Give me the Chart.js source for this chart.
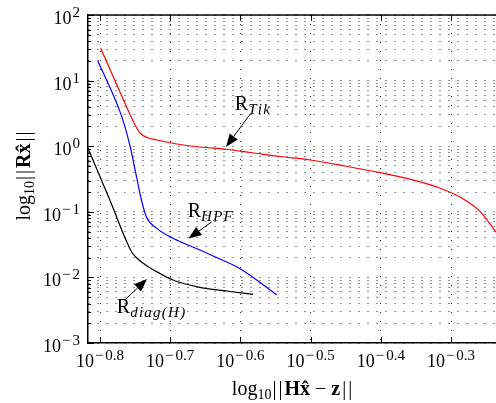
<!DOCTYPE html>
<html>
<head>
<meta charset="utf-8">
<script src="https://cdn.jsdelivr.net/npm/chart.js@4.4.1/dist/chart.umd.min.js"></script>
<style>
  html, body { margin: 0; padding: 0; background: #fff; }
  #wrap { width: 496px; height: 403px; }
</style>
</head>
<body>
<div id="wrap"><canvas id="newChart" width="496" height="403"></canvas></div>
<script>
// all values are log10 of the plotted quantities
const tikX = [-0.799, -0.775, -0.750, -0.743, -0.733, -0.719, -0.686, -0.658, -0.619, -0.586, -0.544, -0.501, -0.451, -0.401, -0.354, -0.316, -0.283, -0.259, -0.236];
const tikY = [1.492, 0.910, 0.323, 0.201, 0.133, 0.095, 0.026, -0.012, -0.050, -0.096, -0.157, -0.210, -0.302, -0.404, -0.515, -0.637, -0.800, -0.990, -1.308];

const hpfX = [-0.803, -0.769, -0.757, -0.748, -0.741, -0.734, -0.719, -0.696, -0.658, -0.634, -0.601, -0.548];
const hpfY = [1.299, 0.450, -0.008, -0.465, -0.820, -1.075, -1.252, -1.404, -1.582, -1.697, -1.864, -2.268];

const diagX = [-0.817, -0.786, -0.755, -0.746, -0.734, -0.715, -0.696, -0.658, -0.615, -0.582];
const diagY = [-0.032, -0.820, -1.608, -1.720, -1.819, -1.938, -2.040, -2.151, -2.215, -2.258];

const xTicks = [-0.8, -0.7, -0.6, -0.5, -0.4, -0.3];
const yTicks = [-3, -2, -1, 0, 1, 2];

// annotation labels: text position, arrow start, arrow tip (log10 units)
const noteSubs = ["Tik", "HPF", "diag(H)"];
const noteText = [[-0.608, 0.552], [-0.675, -1.079], [-0.776, -2.543]];
const noteFrom = [[-0.586, 0.491], [-0.641, -1.155], [-0.764, -2.337]];
const noteTip = [[-0.6205, -0.012], [-0.674, -1.407], [-0.733, -2.024]];

const X_MIN = -0.8171;
const X_MAX = -0.2359;

const SERIF = '"Liberation Serif", "DejaVu Serif", serif';

function pairs(xs, ys) {
    return xs.map((v, i) => ({ x: v, y: ys[i] }));
}

// y grid: decades plus the 2..9 minor lines
let yGrid = [];
for (let d = -3; d < 2; d++) {
    yGrid.push(d);
    for (let k = 2; k <= 9; k++) yGrid.push(d + Math.log10(k));
}
yGrid.push(2);

function richText(c, parts, x, y, align) {
    let total = 0;
    parts.forEach((p) => {
        c.font = p.f;
        p.w = c.measureText(p.t).width + (p.gap || 0);
        total += p.w;
    });
    let cx = align === "right" ? x - total : align === "center" ? x - total / 2 : x;
    parts.forEach((p) => {
        c.font = p.f;
        c.fillText(p.t, cx, y + (p.dy || 0));
        cx += p.w;
    });
}

// "10" with a superscript exponent
function powerParts(v) {
    const parts = [{ t: "10", f: "18px " + SERIF, gap: 1 }];
    if (v < 0) parts.push({ t: "\u2212", f: "15px " + SERIF, dy: -7, gap: 2 });
    parts.push({ t: Math.abs(v).toString(), f: "15px " + SERIF, dy: -7 });
    return parts;
}

function bars() {
    return { t: "|", f: "20px " + SERIF, gap: 2 };
}

const axisDecor = {
    id: "axisDecor",
    afterDraw(chart) {
        const { ctx: c, chartArea: a, scales } = chart;
        const x = scales.x, y = scales.y;
        c.save();
        c.fillStyle = "#000";
        c.strokeStyle = "#000";
        c.textBaseline = "alphabetic";

        // top border
        c.lineWidth = 1.5;
        c.beginPath();
        c.moveTo(a.left, a.top);
        c.lineTo(a.right, a.top);
        c.stroke();

        // inner tick marks
        c.lineWidth = 1;
        y.ticks.forEach((t) => {
            const py = Math.round(y.getPixelForValue(t.value)) + 0.5;
            const major = Math.abs(t.value - Math.round(t.value)) < 1e-9;
            c.beginPath();
            c.moveTo(a.left, py);
            c.lineTo(a.left + (major ? 6 : 3), py);
            c.stroke();
        });
        xTicks.forEach((v) => {
            const px = Math.round(x.getPixelForValue(v)) + 0.5;
            c.beginPath();
            c.moveTo(px, a.bottom);
            c.lineTo(px, a.bottom - 6);
            c.moveTo(px, a.top);
            c.lineTo(px, a.top + 6);
            c.stroke();
        });

        // tick labels
        yTicks.forEach((v) => {
            richText(c, powerParts(v), 80, y.getPixelForValue(v) + 9, "right");
        });
        xTicks.forEach((v) => {
            richText(c, powerParts(v), x.getPixelForValue(v), a.bottom + 24, "center");
        });

        // axis titles
        richText(c, [
            { t: "log", f: "20px " + SERIF },
            { t: "10", f: "14px " + SERIF, dy: 4, gap: 1 },
            bars(), bars(),
            { t: "H", f: "bold 20px " + SERIF },
            { t: "x\u0302", f: "bold 20px " + SERIF },
            { t: " \u2212 ", f: "20px " + SERIF },
            { t: "z", f: "bold 20px " + SERIF, gap: 2 },
            bars(), bars(),
        ], 293, 395, "center");

        c.save();
        c.translate(30, 175);
        c.rotate(-Math.PI / 2);
        richText(c, [
            { t: "log", f: "20px " + SERIF },
            { t: "10", f: "14px " + SERIF, dy: 4, gap: 1 },
            bars(), bars(),
            { t: "R", f: "bold 20px " + SERIF },
            { t: "x\u0302", f: "bold 20px " + SERIF, gap: 2 },
            bars(), bars(),
        ], 0, 0, "center");
        c.restore();

        // curve annotations with arrows
        noteSubs.forEach((s, i) => {
            const tx = x.getPixelForValue(noteText[i][0]);
            const ty = y.getPixelForValue(noteText[i][1]);
            richText(c, [
                { t: "R", f: "20px " + SERIF },
                { t: s.split("").join("\u200a"), f: "italic 15px " + SERIF, dy: 4 },
            ], tx, ty, "left");

            const fx = x.getPixelForValue(noteFrom[i][0]);
            const fy = y.getPixelForValue(noteFrom[i][1]);
            const hx = x.getPixelForValue(noteTip[i][0]);
            const hy = y.getPixelForValue(noteTip[i][1]);
            const ang = Math.atan2(hy - fy, hx - fx);
            const L = 13, W = 5;
            const bx = hx - L * Math.cos(ang), by = hy - L * Math.sin(ang);
            c.lineWidth = 1;
            c.beginPath();
            c.moveTo(fx, fy);
            c.lineTo(bx, by);
            c.stroke();
            c.beginPath();
            c.moveTo(hx, hy);
            c.lineTo(bx + W * Math.sin(ang), by - W * Math.cos(ang));
            c.lineTo(bx - W * Math.sin(ang), by + W * Math.cos(ang));
            c.closePath();
            c.fill();
        });
        c.restore();
    },
};

const ctx = document.getElementById("newChart");

const displayChart = new Chart(ctx, {
    type: "scatter",
    data: {
        datasets: [
            { data: pairs(tikX, tikY), borderColor: "#ff0000" },
            { data: pairs(hpfX, hpfY), borderColor: "#0000ff" },
            { data: pairs(diagX, diagY), borderColor: "#000000" },
        ].map((d) => Object.assign(d, {
            showLine: true,
            borderWidth: 1.2,
            pointRadius: 0,
            cubicInterpolationMode: "monotone",
        })),
    },
    options: {
        responsive: false,
        animation: false,
        layout: { padding: { left: 88, top: 15, right: 0, bottom: 60 } },
        plugins: {
            legend: { display: false },
            tooltip: { enabled: false },
        },
        scales: {
            x: {
                type: "linear",
                min: X_MIN,
                max: X_MAX,
                afterBuildTicks: (s) => { s.ticks = xTicks.map((v) => ({ value: v })); },
                afterFit: (s) => { s.height = 0; },
                ticks: { display: false },
                grid: { color: "rgba(0,0,0,0.85)", lineWidth: 1, drawTicks: false },
                border: { display: true, color: "#000", width: 1.5, dash: [1, 8] },
            },
            y: {
                type: "linear",
                min: -3,
                max: 2,
                afterBuildTicks: (s) => { s.ticks = yGrid.map((v) => ({ value: v })); },
                afterFit: (s) => { s.width = 0; },
                ticks: { display: false },
                grid: { color: "rgba(0,0,0,0.85)", lineWidth: 1, drawTicks: false },
                border: { display: true, color: "#000", width: 1.5, dash: [1, 8] },
            },
        },
    },
    plugins: [axisDecor],
});
</script>
</body>
</html>
